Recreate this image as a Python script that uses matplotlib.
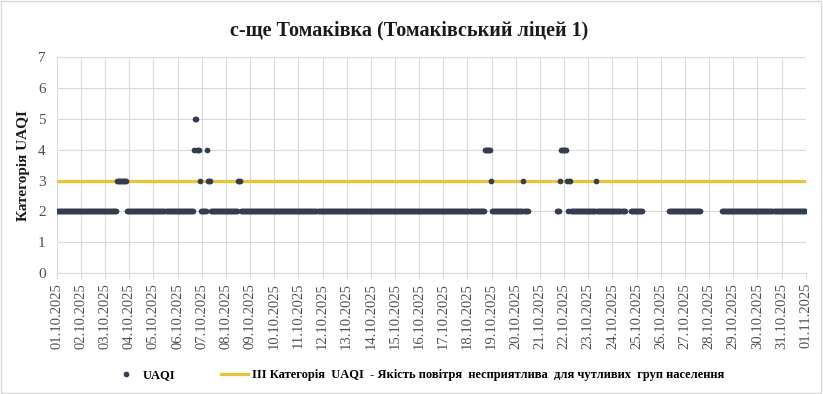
import matplotlib
matplotlib.use("Agg")
import matplotlib.pyplot as plt
import matplotlib.dates as mdates
from matplotlib.lines import Line2D
from matplotlib.patches import Rectangle
import numpy as np
import pandas as pd

# ---- data (hourly UAQI category, run-length encoded; None = no data) ----
start_time = "2025-10-01 00:00"
run_values = [2, 3, 2, 4, 5, 4, 3, 2, 4, 3, 2, 3, 2, 4, 3, 2, 3, 2,
              None, 2, 3, 4, 3, 2, 3, 2, 3, 2, None, 2, None, 2, None, 2]
run_lengths = [60, 10, 66, 1, 2, 3, 1, 6, 1, 3, 27, 3, 242, 6, 1, 31, 1, 5,
               28, 3, 1, 6, 1, 1, 2, 25, 1, 28, 5, 12, 26, 32, 21, 83]
threshold_value = 3
y_ticks = [0, 1, 2, 3, 4, 5, 6, 7]
title = "с-ще Томаківка (Томаківський ліцей 1)"
ylabel = "Категорія UAQI"
series_label = "UAQI"
threshold_label = "III Категорія  UAQI  - Якість повітря  несприятлива  для чутливих  груп населення"

vals = []
for v, n in zip(run_values, run_lengths):
    vals.extend([np.nan if v is None else v] * n)
vals = np.array(vals, dtype=float)
times = pd.date_range(start_time, periods=len(vals), freq="h")
x_end = times[0] + pd.Timedelta(days=31)

plt.rcParams['font.family'] = ['Liberation Serif', 'DejaVu Serif']

fig = plt.figure(figsize=(8.23, 3.94), dpi=100)
ax = fig.add_axes([0.069, 0.307, 0.91, 0.548])

marker_color = "#333D4F"
thr_color = "#EBC336"
grid_color = "#D9D9D9"

ax.plot([times[0], x_end], [threshold_value, threshold_value], color=thr_color,
        lw=2.3, solid_capstyle='butt', zorder=2)
ax.plot(times, vals, linestyle='none', marker='o', markersize=4.1,
        color=marker_color, markeredgewidth=0, zorder=3)

ax.set_xlim(times[0], x_end)
ax.set_ylim(0, 7)
ax.set_yticks(y_ticks)
ax.xaxis.set_major_locator(mdates.DayLocator())
ax.xaxis.set_major_formatter(mdates.DateFormatter('%d.%m.%Y'))
for lab in ax.get_xticklabels():
    lab.set_rotation(90)

ax.grid(True, color=grid_color, lw=0.8, zorder=0)
ax.set_axisbelow(True)
for s in ['top', 'right', 'left']:
    ax.spines[s].set_visible(False)
ax.spines['bottom'].set_color(grid_color)
ax.spines['bottom'].set_linewidth(0.8)
ax.tick_params(axis='x', colors=grid_color, length=4, width=0.8, labelcolor='#505050',
               labelsize=10.5, pad=3)
ax.tick_params(axis='y', length=0, labelcolor='#505050', labelsize=11, pad=8)

ax.set_ylabel(ylabel, fontsize=11, fontweight='bold', labelpad=6, color='#1a1a1a')
fig.text(0.497, 0.923, title, ha='center', va='center', fontsize=14.5,
         fontweight='bold', color='#1a1a1a')

handles = [Line2D([], [], linestyle='none', marker='o', markersize=4.1,
                  color=marker_color, markeredgewidth=0),
           Line2D([], [], color=thr_color, lw=2.3)]
fig.legend(handles, [series_label, threshold_label], loc='center',
           bbox_to_anchor=(0.508, 0.048), ncol=2, frameon=False,
           prop={'family': 'Liberation Serif', 'weight': 'bold', 'size': 9.0},
           handlelength=2.2, columnspacing=3.6, handletextpad=0.3)

fig.add_artist(Rectangle((0.001, 0.002), 0.997, 0.995, transform=fig.transFigure,
                         fill=False, edgecolor='#D9D9D9', lw=1))

fig.savefig("out.png", dpi=100)
